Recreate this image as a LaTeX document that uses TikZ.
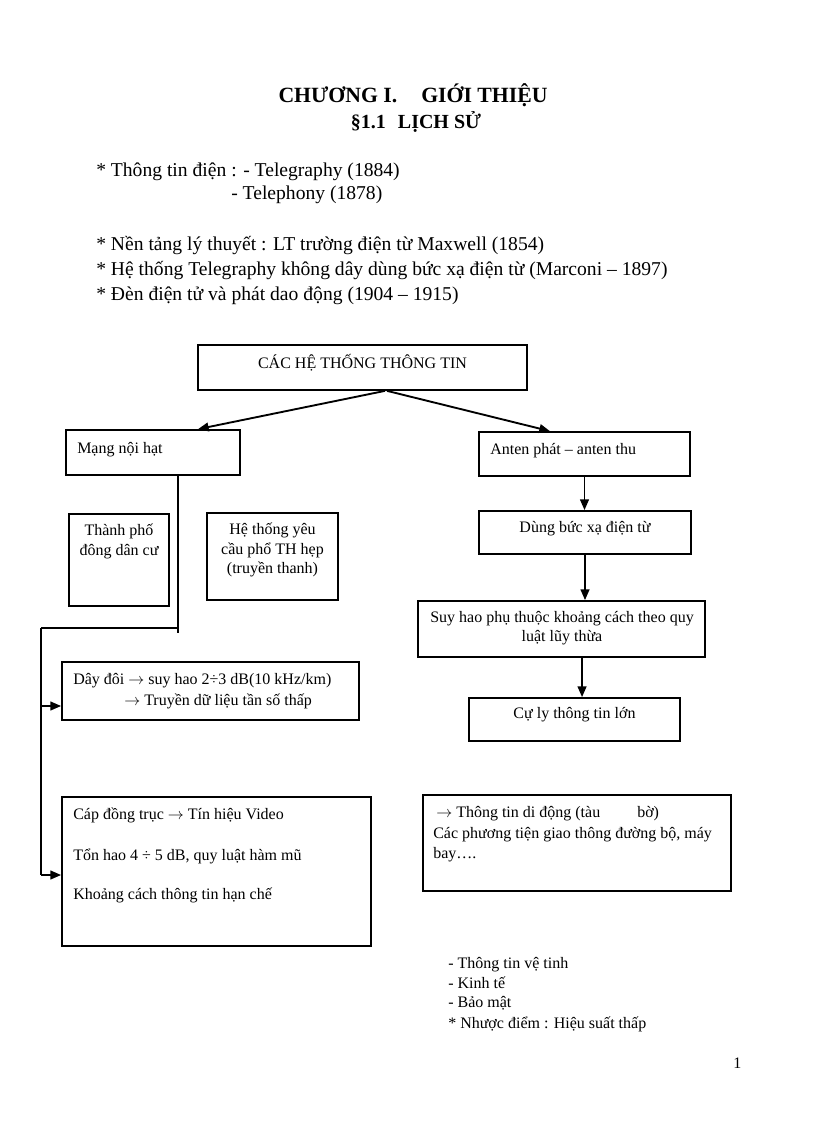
\documentclass[tikz,border=0pt]{standalone}
\usepackage{fontspec}
\setmainfont{Liberation Serif}
\usetikzlibrary{arrows.meta,fit,calc}
\newcommand{\ra}{$\rightarrow$}
\begin{document}
\begin{tikzpicture}[x=0.75pt,y=-0.75pt,
 box/.style={draw, line width=1.3pt, inner sep=0pt},
 txt/.style={inner sep=0pt, anchor=base west, font=\fontsize{12}{14}\selectfont},
 ctxt/.style={inner sep=0pt, anchor=base, font=\fontsize{12}{14}\selectfont},
 body/.style={inner sep=0pt, anchor=base west, font=\fontsize{14.7}{17}\selectfont},
 arr/.style={line width=1.4pt, -{Triangle[length=8pt,width=6.5pt]}},
 thin/.style={line width=0.8pt},
 thick/.style={line width=1.4pt}]
\useasboundingbox (0,0) rectangle (816,1123);
\fill[white] (0,0) rectangle (816,1123);

% titles
\node[inner sep=0pt, anchor=base, font=\bfseries\fontsize{16.3}{18}\selectfont] (title) at (413,103) {CHƯƠNG I.\hspace{18pt}GIỚI THIỆU};
\node[inner sep=0pt, anchor=base, font=\bfseries\fontsize{15}{17}\selectfont] (sub) at (416,129) {§1.1\hspace{9pt}LỊCH SỬ};

% body text
\node[body] (b1) at (96,177) {* Thông tin điện : - Telegraphy (1884)};
\node[body] (b2) at (231,200) {- Telephony (1878)};
\node[body] (b3) at (96,250) {* Nền tảng lý thuyết : LT trường điện từ Maxwell (1854)};
\node[body] (b4) at (96,275) {* Hệ thống Telegraphy không dây dùng bức xạ điện từ (Marconi – 1897)};
\node[body] (b5) at (96,300) {* Đèn điện tử và phát dao động (1904 – 1915)};

% boxes
\node[box, fit={(198,345) (527,390)}] (top) {};
\node[box, fit={(66,430) (240,475)}] (mnh) {};
\node[box, fit={(479,432) (690,476)}] (ant) {};
\node[box, fit={(69,514) (169,606)}] (tp) {};
\node[box, fit={(207,513) (338,600)}] (ht) {};
\node[box, fit={(62,662) (359,720)}] (day) {};
\node[box, fit={(62,797) (371,946)}] (cap) {};
\node[box, fit={(479,511) (691,554)}] (dung) {};
\node[box, fit={(418,601) (705,657)}] (suy) {};
\node[box, fit={(469,698) (680,741)}] (cu) {};
\node[box, fit={(423,795) (731,891)}] (dd) {};

% box texts
\node[ctxt] (ttop) at (362.5,368) {CÁC HỆ THỐNG THÔNG TIN};
\node[txt] (tmnh) at (77,453) {Mạng nội hạt};
\node[txt] (tant) at (490,454) {Anten phát – anten thu};
\node[ctxt] (ttp1) at (119,535) {Thành phố};
\node[ctxt] (ttp2) at (119,555) {đông dân cư};
\node[ctxt] (tht1) at (272.5,534) {Hệ thống yêu};
\node[ctxt] (tht2) at (272.5,554) {cầu phổ TH hẹp};
\node[ctxt] (tht3) at (272.5,573) {(truyền thanh)};
\node[txt] (tday1) at (73,684) {Dây đôi \ra{} suy hao 2÷3 dB(10 kHz/km)};
\node[txt] (tday2) at (124,705) {\ra{} Truyền dữ liệu tần số thấp};
\node[txt] (tcap1) at (73,819) {Cáp đồng trục \ra{} Tín hiệu Video};
\node[txt] (tcap2) at (73,860) {Tổn hao 4 ÷ 5 dB, quy luật hàm mũ};
\node[txt] (tcap3) at (73,899) {Khoảng cách thông tin hạn chế};
\node[ctxt] (tdung) at (585,532) {Dùng bức xạ điện từ};
\node[ctxt] (tsuy1) at (562,622) {Suy hao phụ thuộc khoảng cách theo quy};
\node[ctxt] (tsuy2) at (562,641) {luật lũy thừa};
\node[ctxt] (tcu) at (574.5,718) {Cự ly thông tin lớn};
\node[txt] (tdd1) at (436,817) {\ra{} Thông tin di động (tàu};
\node[txt] (tdd1b) at (637,817) {bờ)};
\node[txt] (tdd2) at (433,838) {Các phương tiện giao thông đường bộ, máy};
\node[txt] (tdd3) at (433,858) {bay….};

% list
\node[txt] (l1) at (448,968) {- Thông tin vệ tinh};
\node[txt] (l2) at (448,988) {- Kinh tế};
\node[txt] (l3) at (448,1007) {- Bảo mật};
\node[txt] (l4) at (448,1028) {* Nhược điểm : Hiệu suất thấp};
\node[txt] (pg) at (733,1068) {1};

% connectors
\draw[arr] ([xshift=16.9pt]top.south) -- ([xshift=33.75pt]mnh.north);
\draw[arr] ([xshift=18.4pt]top.south) -- ([xshift=-25.9pt]ant.north);
\draw[arr] (ant.south) -- (ant.south |- dung.north);
\draw[arr] (dung.south) -- (dung.south |- suy.north);
\draw[arr] ([xshift=15.4pt]suy.south) -- ([xshift=15.4pt]suy.south |- cu.north);

\coordinate (v1) at (178,633);
\coordinate (h1) at (178,628);
\coordinate (c1) at (41,628);
\coordinate (c2) at (41,706);
\coordinate (c3) at (41,875);
\draw[thin] (mnh.south -| v1) -- (v1);
\draw[thin] (h1) -- (c1);
\draw[thick] (c1) -- (c3);
\draw[arr] (c2) -- (c2 -| day.west);
\draw[arr] (c3) -- (c3 -| cap.west);
\end{tikzpicture}
\end{document}
